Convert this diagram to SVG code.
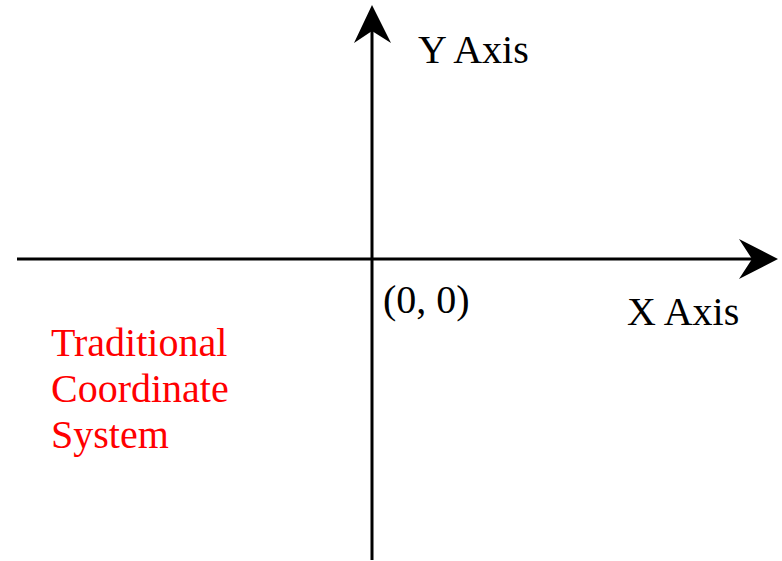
<svg xmlns="http://www.w3.org/2000/svg" width="782" height="561" viewBox="0 0 782 561">
<style>
.ax{stroke:#000;stroke-width:3;fill:none}
.head{fill:#000;stroke:none}
.t{font-family:"Liberation Serif","Times New Roman",serif;font-size:40px;fill:#000}
.r{fill:#f00}
</style>
<rect width="782" height="561" fill="#fff"/>
<g id="connectors">
<line class="ax" x1="17" y1="259" x2="755" y2="259"/>
<polygon class="head" points="778,259 739,239 752,259 739,279"/>
<line class="ax" x1="372" y1="560" x2="372" y2="30"/>
<polygon class="head" points="372,5 354,43 372,31 391,43"/>
</g>
<g id="y-label"><text class="t" x="418" y="63">Y Axis</text></g>
<g id="x-label"><text class="t" x="627" y="325">X Axis</text></g>
<g id="origin"><text class="t" x="383" y="313">(0, 0)</text></g>
<g id="title"><text class="t r" x="51" y="356">Traditional</text><text class="t r" x="51" y="402">Coordinate</text><text class="t r" x="51" y="448">System</text></g>
</svg>
